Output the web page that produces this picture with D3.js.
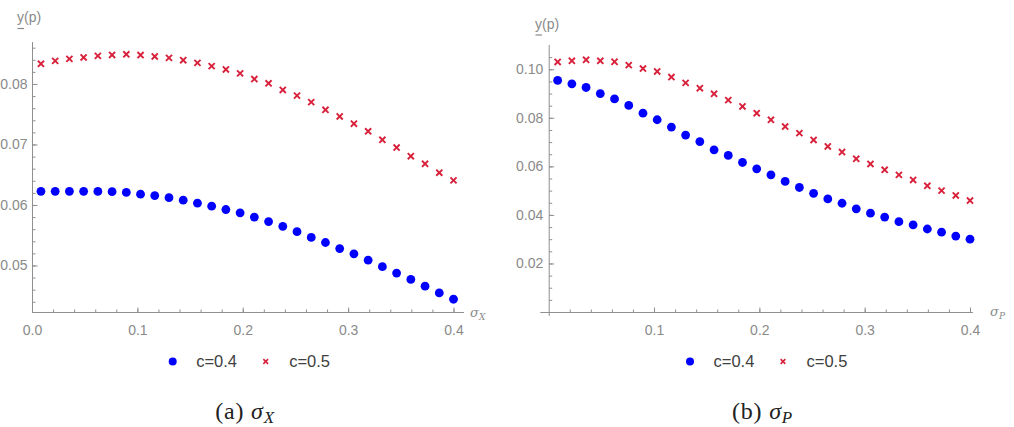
<!DOCTYPE html>
<html>
<head>
<meta charset="utf-8">
<script src="https://cdn.jsdelivr.net/npm/d3@7"></script>
<style>
body { margin: 0; background: #fff; }
svg { display: block; }
</style>
</head>
<body>
<svg id="chart" width="1014" height="427"></svg>
<script>
// sigma grid (same for both panels)
var sigma = [0.0085, 0.022, 0.0355, 0.049, 0.0625, 0.076, 0.0895, 0.103, 0.1165, 0.13,
             0.1435, 0.157, 0.1705, 0.184, 0.1975, 0.211, 0.2245, 0.238, 0.2515, 0.265,
             0.2785, 0.292, 0.3055, 0.319, 0.3325, 0.346, 0.3595, 0.373, 0.3865, 0.4];

// (a) sigma_X
var yX_c04 = [0.06225, 0.06225, 0.06225, 0.06225, 0.06224, 0.0622, 0.06208, 0.06178, 0.06155, 0.0612,
              0.0608, 0.0603, 0.0598, 0.05925, 0.0587, 0.0580, 0.05725, 0.05647, 0.05558, 0.05463,
              0.0538, 0.0528, 0.05192, 0.05087, 0.0498, 0.04875, 0.0477, 0.04658, 0.04547, 0.04442];
var yX_c05 = [0.08333, 0.08382, 0.08415, 0.08438, 0.08465, 0.0848, 0.0849, 0.08478, 0.08455, 0.08432,
              0.08393, 0.08349, 0.08295, 0.08241, 0.08175, 0.08082, 0.08011, 0.07902, 0.07808, 0.077,
              0.07574, 0.07464, 0.07344, 0.07218, 0.07077, 0.0695, 0.06807, 0.06681, 0.06534, 0.06407];

// (b) sigma_P
var yP_c04 = [0.0954, 0.0940, 0.0925, 0.0900, 0.0878, 0.0851, 0.0819, 0.0792, 0.0762, 0.0729,
              0.0702, 0.0668, 0.0645, 0.0616, 0.0590, 0.0565, 0.0538, 0.0513, 0.0489, 0.0466,
              0.0448, 0.0425, 0.0407, 0.0391, 0.0372, 0.0359, 0.0342, 0.0329, 0.0313, 0.0300];
var yP_c05 = [0.1030, 0.1035, 0.1039, 0.1035, 0.1031, 0.1017, 0.1003, 0.0991, 0.0968, 0.0944,
              0.0922, 0.0899, 0.0873, 0.0847, 0.0819, 0.0792, 0.0764, 0.0737, 0.0709, 0.0682,
              0.0659, 0.0631, 0.0610, 0.0586, 0.0565, 0.0544, 0.0520, 0.0500, 0.0480, 0.0459];

var legendLabels = ["c=0.4", "c=0.5"];
var captions = ["(a) ", "(b) "];
var xSubs = ["X", "P"];

var xTicksA = [0, 0.1, 0.2, 0.3, 0.4];
var xTickLabelsA = ["0.0", "0.1", "0.2", "0.3", "0.4"];
var yTicksA = [0.05, 0.06, 0.07, 0.08];
var yTickLabelsA = ["0.05", "0.06", "0.07", "0.08"];
var xTicksB = [0.1, 0.2, 0.3, 0.4];
var xTickLabelsB = ["0.1", "0.2", "0.3", "0.4"];
var yTicksB = [0.02, 0.04, 0.06, 0.08, 0.10];
var yTickLabelsB = ["0.02", "0.04", "0.06", "0.08", "0.10"];

var blue = "#0000ff", red = "#d8203a";
var axisColor = "#8f8f8f", labelColor = "#8a8a8a";

var svg = d3.select("#chart");

function panel(p) {
  var x = d3.scaleLinear().domain([0, 0.4]).range(p.xRange);
  var y = d3.scaleLinear().domain(p.yDomain).range([312, p.yTop]);
  var g = svg.append("g");

  // axis lines
  g.append("line")
    .attr("x1", x(p.xLine[0])).attr("x2", x(p.xLine[1]))
    .attr("y1", y(p.yDomain[0]) + 0.5).attr("y2", y(p.yDomain[0]) + 0.5)
    .attr("stroke", axisColor);
  g.append("line")
    .attr("x1", x(0) + 0.5).attr("x2", x(0) + 0.5)
    .attr("y1", p.yBottom).attr("y2", p.yTop)
    .attr("stroke", axisColor);

  // minor ticks
  g.append("g")
    .attr("transform", "translate(0," + (y(p.yDomain[0]) + 0.5) + ")")
    .call(d3.axisBottom(x).tickValues(d3.range(0.02, 0.401, 0.02)).tickSize(-3).tickFormat(""));
  g.append("g")
    .attr("transform", "translate(" + (x(0) + 0.5) + ",0)")
    .call(d3.axisLeft(y).tickValues(p.yMinor).tickSize(-3).tickFormat(""));

  // major ticks
  g.append("g")
    .attr("transform", "translate(0," + (y(p.yDomain[0]) + 0.5) + ")")
    .call(d3.axisBottom(x).tickValues(p.xTicks).tickSize(-5).tickPadding(13)
      .tickFormat(function (d, i) { return p.xLabels[i]; }));
  g.append("g")
    .attr("transform", "translate(" + (x(0) + 0.5) + ",0)")
    .call(d3.axisLeft(y).tickValues(p.yTicks).tickSize(-5).tickPadding(p.yPad)
      .tickFormat(function (d, i) { return p.yLabels[i]; }));

  g.selectAll(".domain").remove();
  g.selectAll(".tick line").attr("stroke", axisColor);
  g.selectAll(".tick text")
    .attr("fill", labelColor)
    .style("font-family", "'Liberation Sans', Arial, sans-serif")
    .style("font-size", "14px");

  // y label
  var yl = g.append("text")
    .attr("x", p.yLabel[0]).attr("y", p.yLabel[1])
    .attr("fill", labelColor)
    .style("font-family", "'Liberation Sans', Arial, sans-serif")
    .style("font-size", "14px");
  yl.append("tspan").text("y");
  yl.append("tspan").text("(p)");
  g.append("line")
    .attr("x1", p.yLabel[0] + 0.5).attr("x2", p.yLabel[0] + 7)
    .attr("y1", p.yLabel[1] + 6.5).attr("y2", p.yLabel[1] + 6.5)
    .attr("stroke", labelColor).attr("stroke-width", 1.2);

  // x label
  var xl = g.append("text")
    .attr("x", p.xLabel[0]).attr("y", p.xLabel[1])
    .attr("fill", labelColor)
    .style("font-family", "'DejaVu Serif', serif")
    .style("font-style", "italic")
    .style("font-size", "13px");
  xl.append("tspan").text("\u03c3");
  xl.append("tspan").attr("dy", 3).style("font-size", "9px").text(p.sub);

  // data
  g.append("g").selectAll("circle")
    .data(p.low)
    .enter()
    .append("circle")
    .attr("cx", function (d, i) { return x(sigma[i]); })
    .attr("cy", function (d) { return y(d); })
    .attr("r", 4.4)
    .attr("fill", blue);

  var cross = d3.symbol().type(d3.symbolTimes).size(26);
  g.append("g").selectAll("path")
    .data(p.high)
    .enter()
    .append("path")
    .attr("d", cross)
    .attr("transform", function (d, i) { return "translate(" + x(sigma[i]) + "," + y(d) + ")"; })
    .attr("fill", "none")
    .attr("stroke", red)
    .attr("stroke-width", 1.9);

  // legend
  var lg = g.append("g").attr("transform", "translate(" + p.legendX + ",0)");
  lg.append("circle").attr("cx", 0).attr("cy", 361.5).attr("r", 4).attr("fill", blue);
  lg.append("path")
    .attr("d", d3.symbol().type(d3.symbolTimes).size(16))
    .attr("transform", "translate(93,361.5)")
    .attr("fill", "none").attr("stroke", red).attr("stroke-width", 1.6);
  lg.selectAll("text")
    .data(legendLabels)
    .enter()
    .append("text")
    .attr("x", function (d, i) { return i === 0 ? 23.5 : 116.5; })
    .attr("y", 367)
    .attr("fill", "#404040")
    .style("font-family", "'Liberation Sans', Arial, sans-serif")
    .style("font-size", "16.5px")
    .text(function (d) { return d; });

  // caption
  var cap = g.append("text")
    .attr("x", p.captionX).attr("y", 419)
    .attr("text-anchor", "middle")
    .attr("fill", "#222")
    .style("font-family", "'Liberation Serif', 'Times New Roman', serif")
    .style("font-size", "24px")
    .style("letter-spacing", "0.8px");
  cap.append("tspan").text(p.caption);
  cap.append("tspan").style("font-style", "italic").text("\u03c3");
  cap.append("tspan").attr("dy", 4).style("font-style", "italic").style("font-size", "17px").text(p.sub);
}

panel({
  xRange: [32, 453.5], xLine: [0, 0.41], yDomain: [0.04231, 0.08694], yTop: 42, yBottom: 312,
  xTicks: xTicksA, xLabels: xTickLabelsA, yTicks: yTicksA, yLabels: yTickLabelsA,
  yMinor: d3.range(0.044, 0.0865, 0.002), yPad: 5,
  yLabel: [17, 22], xLabel: [470, 317], sub: xSubs[0],
  low: yX_c04, high: yX_c05, legendX: 172.7, caption: captions[0], captionX: 245
});

panel({
  xRange: [548.7, 970], xLine: [-0.008, 0.4028], yDomain: [0, 0.11], yTop: 45, yBottom: 316,
  xTicks: xTicksB, xLabels: xTickLabelsB, yTicks: yTicksB, yLabels: yTickLabelsB,
  yMinor: d3.range(0.005, 0.106, 0.005), yPad: 6,
  yLabel: [535, 28.5], xLabel: [990, 316], sub: xSubs[1],
  low: yP_c04, high: yP_c05, legendX: 690, caption: captions[1], captionX: 762.5
});
</script>
</body>
</html>
